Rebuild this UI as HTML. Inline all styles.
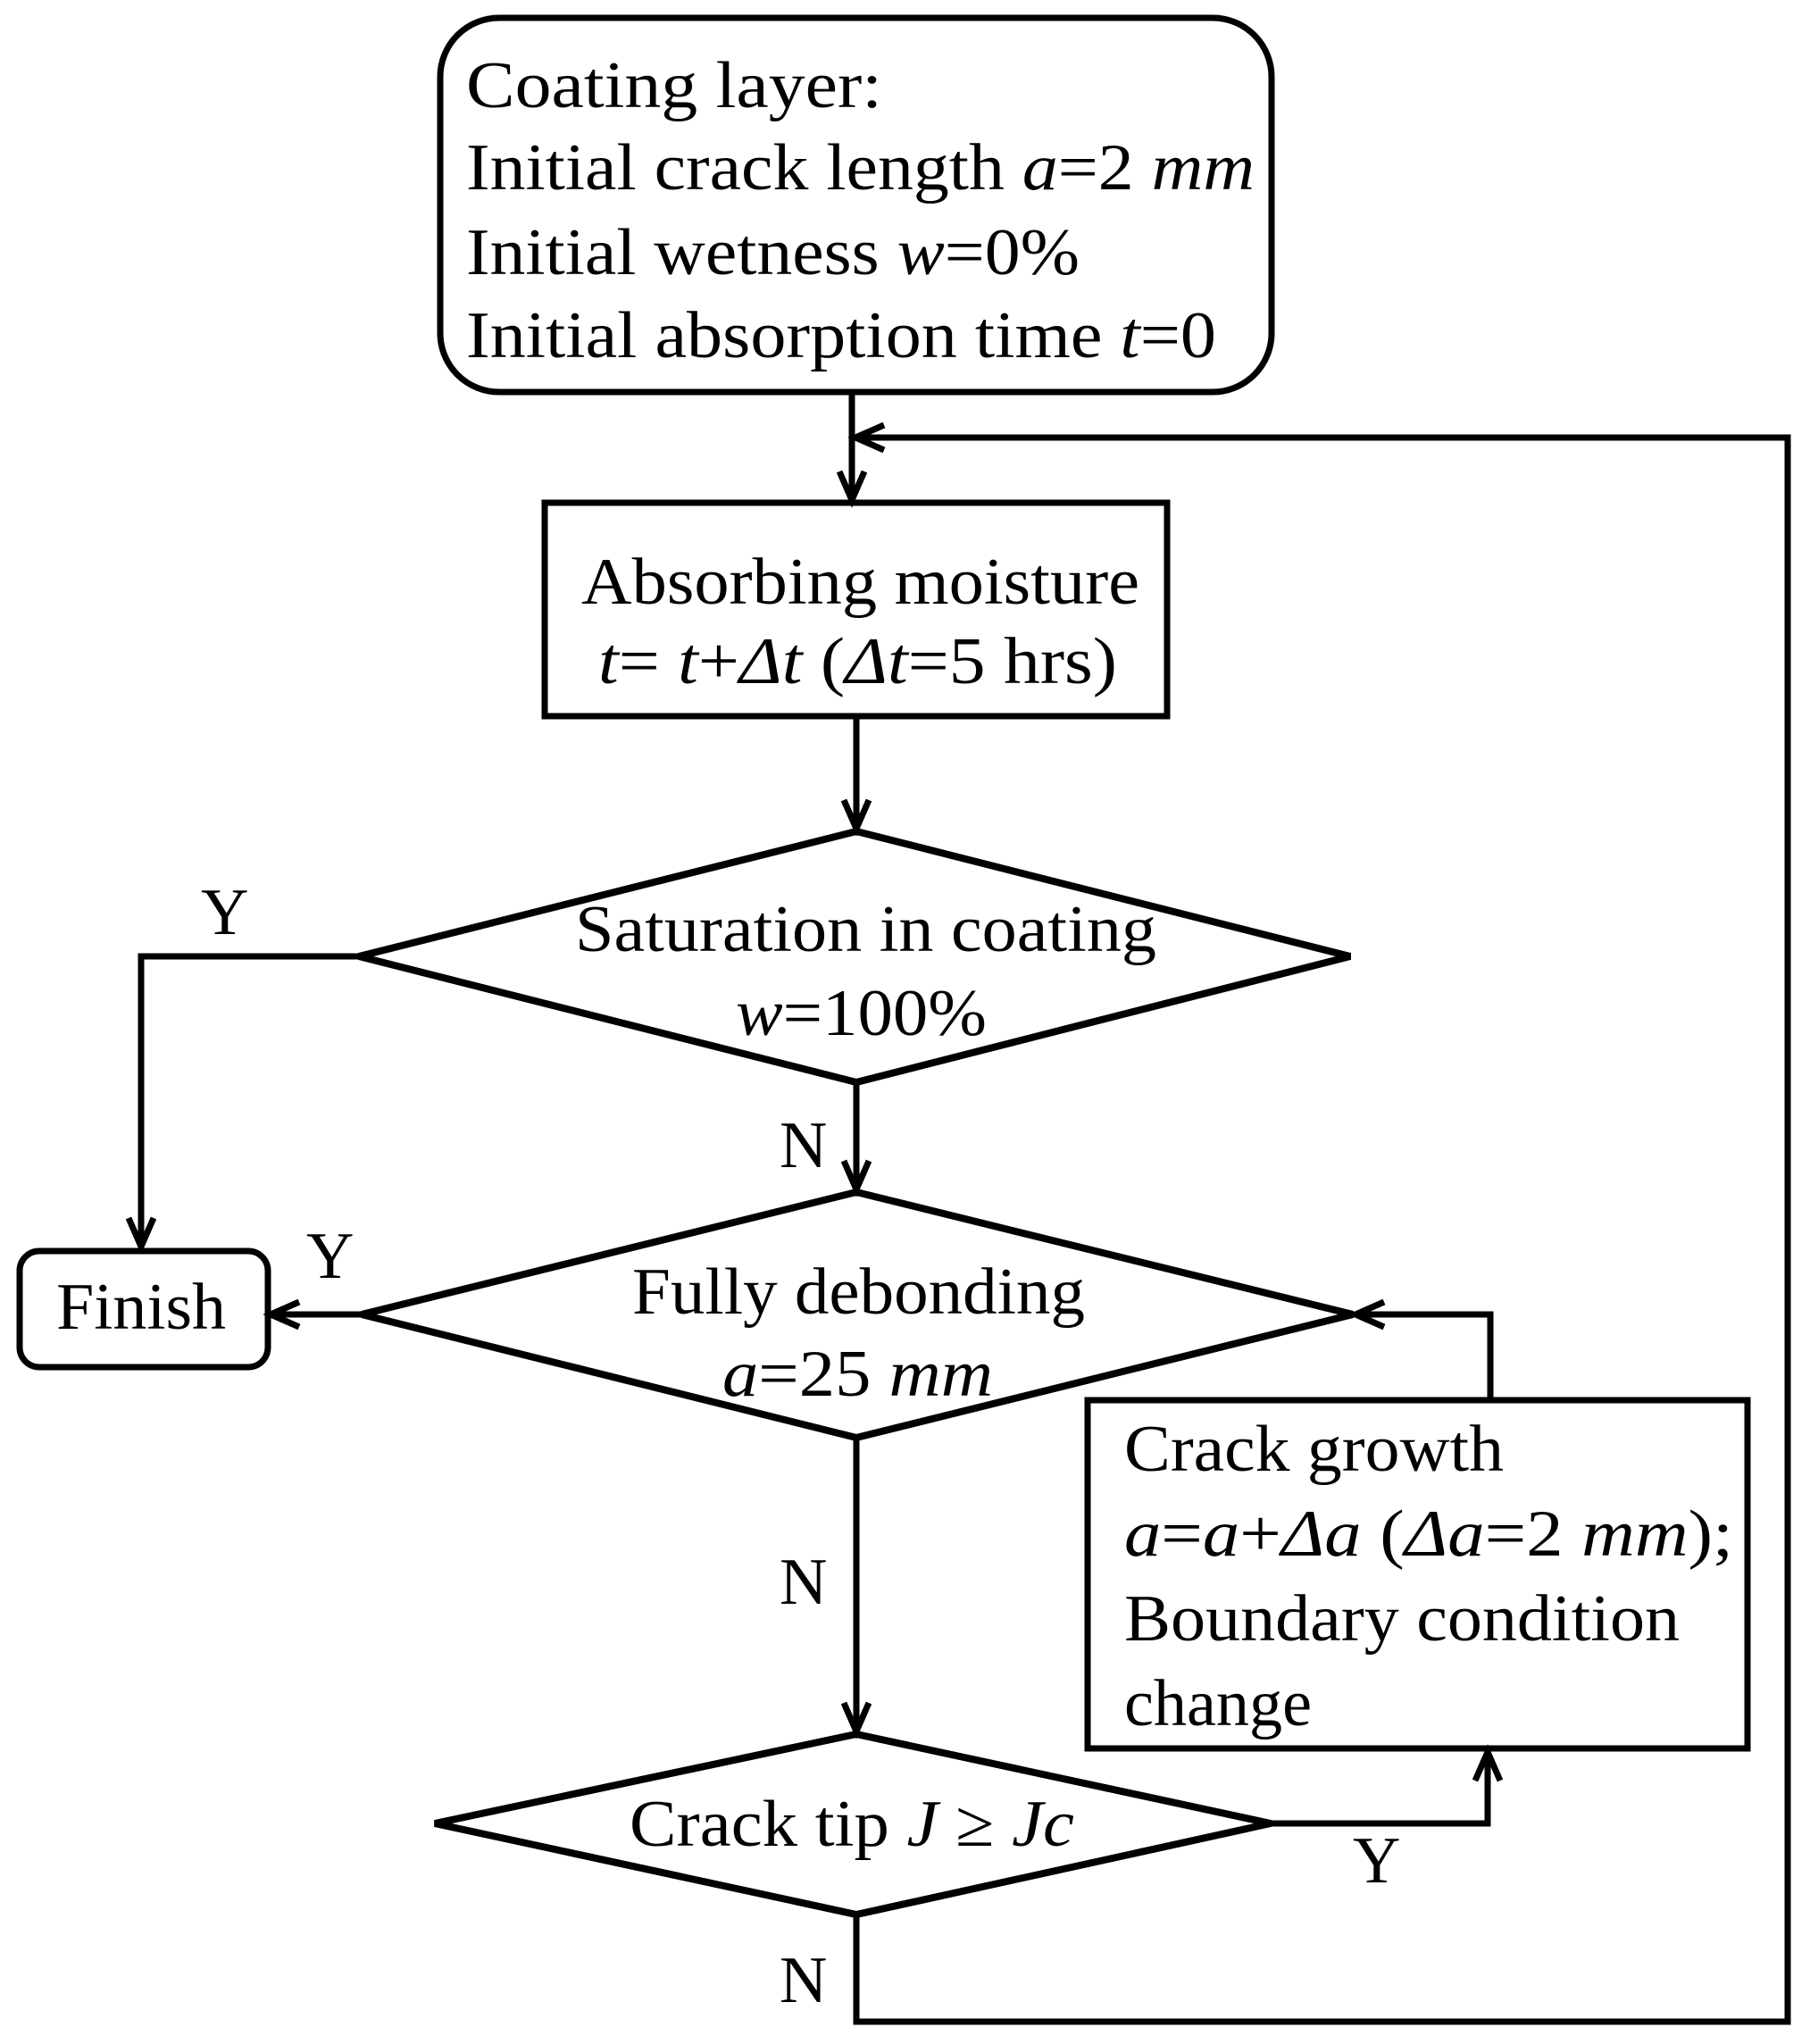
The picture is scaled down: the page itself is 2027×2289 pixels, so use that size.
<!DOCTYPE html>
<html><head><meta charset="utf-8"><style>
html,body{margin:0;padding:0;background:#fff;}
svg{display:block;}
text{font-family:"Liberation Serif",serif;font-size:74px;fill:#000;}
</style></head><body>
<svg width="2027" height="2289" viewBox="0 0 2027 2289" xmlns="http://www.w3.org/2000/svg">
<g fill="none" stroke="#000" stroke-width="7" stroke-linejoin="miter">
<rect x="493" y="20" width="931" height="419" rx="66" ry="66"/>
<rect x="610" y="563" width="697" height="239"/>
<polygon points="959,931 1512,1071 959,1212 402,1071" stroke-width="8"/>
<rect x="22" y="1401" width="278" height="130" rx="22" ry="22"/>
<polygon points="959,1335 1515,1472 959,1610 405,1472" stroke-width="8"/>
<polygon points="959,1942 1423,2042 959,2144 487,2042" stroke-width="8"/>
<rect x="1218" y="1568" width="739" height="390"/>
<line x1="954" y1="439" x2="954" y2="560"/>
<polyline points="940,528 954,560 968,528"/>
<polyline points="957,490 2002,490 2002,2264 959,2264 959,2144"/>
<polyline points="990,476 958,490 990,504"/>
<line x1="959" y1="802" x2="959" y2="928"/>
<polyline points="945,896 959,928 973,896"/>
<polyline points="402,1071 158,1071 158,1396"/>
<polyline points="144,1364 158,1396 172,1364"/>
<line x1="959" y1="1212" x2="959" y2="1332"/>
<polyline points="945,1300 959,1332 973,1300"/>
<line x1="405" y1="1472" x2="303" y2="1472"/>
<polyline points="335,1458 303,1472 335,1486"/>
<line x1="959" y1="1610" x2="959" y2="1939"/>
<polyline points="945,1907 959,1939 973,1907"/>
<polyline points="1423,2042 1666,2042 1666,1962"/>
<polyline points="1652,1994 1666,1962 1680,1994"/>
<polyline points="1669,1568 1669,1472 1518,1472"/>
<polyline points="1550,1458 1518,1472 1550,1486"/>
</g>
<text x="522" y="120" textLength="466" lengthAdjust="spacingAndGlyphs">Coating layer:</text>
<text x="522" y="212" textLength="883" lengthAdjust="spacingAndGlyphs">Initial  crack  length <tspan font-style="italic">a</tspan>=2 <tspan font-style="italic">mm</tspan></text>
<text x="522" y="307" textLength="687" lengthAdjust="spacingAndGlyphs">Initial  wetness <tspan font-style="italic">w</tspan>=0%</text>
<text x="522" y="400" textLength="840" lengthAdjust="spacingAndGlyphs">Initial  absorption time <tspan font-style="italic">t</tspan>=0</text>
<text x="651" y="676" textLength="625" lengthAdjust="spacingAndGlyphs">Absorbing  moisture</text>
<text x="670" y="765" textLength="581" lengthAdjust="spacingAndGlyphs"><tspan font-style="italic">t</tspan>= <tspan font-style="italic">t</tspan>+<tspan font-style="italic">Δt</tspan> (<tspan font-style="italic">Δt</tspan>=5 hrs)</text>
<text x="644" y="1065" textLength="651" lengthAdjust="spacingAndGlyphs">Saturation in coating</text>
<text x="824" y="1159" textLength="281" lengthAdjust="spacingAndGlyphs"><tspan font-style="italic">w</tspan>=100%</text>
<text x="225" y="1046">Y</text>
<text x="158" y="1488" text-anchor="middle" textLength="190" lengthAdjust="spacingAndGlyphs">Finish</text>
<text x="873" y="1307">N</text>
<text x="708" y="1471" textLength="507" lengthAdjust="spacingAndGlyphs">Fully debonding</text>
<text x="809" y="1563" textLength="303" lengthAdjust="spacingAndGlyphs"><tspan font-style="italic">a</tspan>=25 <tspan font-style="italic">mm</tspan></text>
<text x="343" y="1431">Y</text>
<text x="873" y="1796">N</text>
<text x="705" y="2067" textLength="498" lengthAdjust="spacingAndGlyphs">Crack tip <tspan font-style="italic">J</tspan> ≥ <tspan font-style="italic">Jc</tspan></text>
<text x="1515" y="2108">Y</text>
<text x="873" y="2242">N</text>
<text x="1259" y="1647" textLength="425" lengthAdjust="spacingAndGlyphs">Crack growth</text>
<text x="1259" y="1742" textLength="682" lengthAdjust="spacingAndGlyphs"><tspan font-style="italic">a</tspan>=<tspan font-style="italic">a</tspan>+<tspan font-style="italic">Δa</tspan> (<tspan font-style="italic">Δa</tspan>=2 <tspan font-style="italic">mm</tspan>);</text>
<text x="1259" y="1837" textLength="622" lengthAdjust="spacingAndGlyphs">Boundary  condition</text>
<text x="1259" y="1932" textLength="210" lengthAdjust="spacingAndGlyphs">change</text>
</svg>
</body></html>
